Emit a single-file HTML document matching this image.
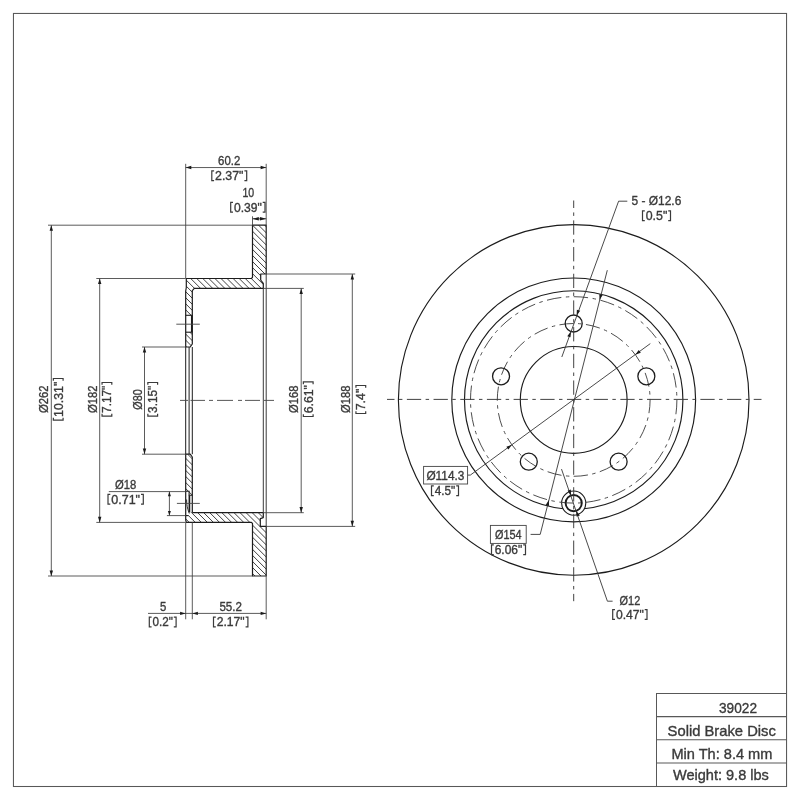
<!DOCTYPE html>
<html><head><meta charset="utf-8"><title>39022 Solid Brake Disc</title>
<style>
html,body{margin:0;padding:0;background:#fff;}
body{width:800px;height:800px;overflow:hidden;}
svg{display:block;will-change:transform;}
text{font-family:"Liberation Sans",sans-serif;fill:#3a3a3a;stroke:#3a3a3a;stroke-width:0.35px;}
</style></head><body>
<svg width="800" height="800" viewBox="0 0 800 800">
<rect width="800" height="800" fill="#fff"/>
<rect x="13.45" y="13.45" width="773.1" height="773.05" fill="none" stroke="#585858" stroke-width="1.05"/>
<defs>
<clipPath id="cu"><path d="M252.50,225.20 L266.20,225.20 L266.20,274.00 L260.70,274.00 L260.70,280.00 L263.30,283.30 L263.30,288.40 L194.30,288.40 L192.30,290.60 L192.30,344.00 L190.20,347.00 L185.70,347.00 L185.70,291.00 L186.30,287.50 L186.30,278.50 L251.40,278.50 L252.50,277.30 Z"/></clipPath>
<clipPath id="cl"><path d="M252.50,576.00 L266.20,576.00 L266.20,526.40 L260.30,526.40 L260.30,518.60 L263.30,517.60 L263.30,512.70 L193.00,512.70 L192.30,512.00 L192.30,457.00 L190.20,454.20 L185.70,454.20 L185.70,520.00 L186.30,522.40 L251.40,522.40 L252.50,523.50 Z"/></clipPath>
</defs>
<g clip-path="url(#cu)" stroke="#3c3c3c" stroke-width="0.98">
<line x1="181.00" y1="123.36" x2="270.00" y2="212.36"/>
<line x1="181.00" y1="129.42" x2="270.00" y2="218.42"/>
<line x1="181.00" y1="135.48" x2="270.00" y2="224.48"/>
<line x1="181.00" y1="141.54" x2="270.00" y2="230.54"/>
<line x1="181.00" y1="147.60" x2="270.00" y2="236.60"/>
<line x1="181.00" y1="153.66" x2="270.00" y2="242.66"/>
<line x1="181.00" y1="159.72" x2="270.00" y2="248.72"/>
<line x1="181.00" y1="165.78" x2="270.00" y2="254.78"/>
<line x1="181.00" y1="171.84" x2="270.00" y2="260.84"/>
<line x1="181.00" y1="177.90" x2="270.00" y2="266.90"/>
<line x1="181.00" y1="183.96" x2="270.00" y2="272.96"/>
<line x1="181.00" y1="190.02" x2="270.00" y2="279.02"/>
<line x1="181.00" y1="196.08" x2="270.00" y2="285.08"/>
<line x1="181.00" y1="202.14" x2="270.00" y2="291.14"/>
<line x1="181.00" y1="208.20" x2="270.00" y2="297.20"/>
<line x1="181.00" y1="214.26" x2="270.00" y2="303.26"/>
<line x1="181.00" y1="220.32" x2="270.00" y2="309.32"/>
<line x1="181.00" y1="226.38" x2="270.00" y2="315.38"/>
<line x1="181.00" y1="232.44" x2="270.00" y2="321.44"/>
<line x1="181.00" y1="238.50" x2="270.00" y2="327.50"/>
<line x1="181.00" y1="244.56" x2="270.00" y2="333.56"/>
<line x1="181.00" y1="250.62" x2="270.00" y2="339.62"/>
<line x1="181.00" y1="256.68" x2="270.00" y2="345.68"/>
<line x1="181.00" y1="262.74" x2="270.00" y2="351.74"/>
<line x1="181.00" y1="268.80" x2="270.00" y2="357.80"/>
<line x1="181.00" y1="274.86" x2="270.00" y2="363.86"/>
<line x1="181.00" y1="280.92" x2="270.00" y2="369.92"/>
<line x1="181.00" y1="286.98" x2="270.00" y2="375.98"/>
<line x1="181.00" y1="293.04" x2="270.00" y2="382.04"/>
<line x1="181.00" y1="299.10" x2="270.00" y2="388.10"/>
<line x1="181.00" y1="305.16" x2="270.00" y2="394.16"/>
<line x1="181.00" y1="311.22" x2="270.00" y2="400.22"/>
<line x1="181.00" y1="317.28" x2="270.00" y2="406.28"/>
<line x1="181.00" y1="323.34" x2="270.00" y2="412.34"/>
<line x1="181.00" y1="329.40" x2="270.00" y2="418.40"/>
<line x1="181.00" y1="335.46" x2="270.00" y2="424.46"/>
<line x1="181.00" y1="341.52" x2="270.00" y2="430.52"/>
<line x1="181.00" y1="347.58" x2="270.00" y2="436.58"/>
<line x1="181.00" y1="353.64" x2="270.00" y2="442.64"/>
</g>
<g clip-path="url(#cl)" stroke="#3c3c3c" stroke-width="0.98">
<line x1="181.00" y1="150.60" x2="270.00" y2="239.60"/>
<line x1="181.00" y1="156.66" x2="270.00" y2="245.66"/>
<line x1="181.00" y1="162.72" x2="270.00" y2="251.72"/>
<line x1="181.00" y1="168.78" x2="270.00" y2="257.78"/>
<line x1="181.00" y1="174.84" x2="270.00" y2="263.84"/>
<line x1="181.00" y1="180.90" x2="270.00" y2="269.90"/>
<line x1="181.00" y1="186.96" x2="270.00" y2="275.96"/>
<line x1="181.00" y1="193.02" x2="270.00" y2="282.02"/>
<line x1="181.00" y1="199.08" x2="270.00" y2="288.08"/>
<line x1="181.00" y1="205.14" x2="270.00" y2="294.14"/>
<line x1="181.00" y1="211.20" x2="270.00" y2="300.20"/>
<line x1="181.00" y1="217.26" x2="270.00" y2="306.26"/>
<line x1="181.00" y1="223.32" x2="270.00" y2="312.32"/>
<line x1="181.00" y1="229.38" x2="270.00" y2="318.38"/>
<line x1="181.00" y1="235.44" x2="270.00" y2="324.44"/>
<line x1="181.00" y1="241.50" x2="270.00" y2="330.50"/>
<line x1="181.00" y1="247.56" x2="270.00" y2="336.56"/>
<line x1="181.00" y1="253.62" x2="270.00" y2="342.62"/>
<line x1="181.00" y1="259.68" x2="270.00" y2="348.68"/>
<line x1="181.00" y1="265.74" x2="270.00" y2="354.74"/>
<line x1="181.00" y1="271.80" x2="270.00" y2="360.80"/>
<line x1="181.00" y1="277.86" x2="270.00" y2="366.86"/>
<line x1="181.00" y1="283.92" x2="270.00" y2="372.92"/>
<line x1="181.00" y1="289.98" x2="270.00" y2="378.98"/>
<line x1="181.00" y1="296.04" x2="270.00" y2="385.04"/>
<line x1="181.00" y1="302.10" x2="270.00" y2="391.10"/>
<line x1="181.00" y1="308.16" x2="270.00" y2="397.16"/>
<line x1="181.00" y1="314.22" x2="270.00" y2="403.22"/>
<line x1="181.00" y1="320.28" x2="270.00" y2="409.28"/>
<line x1="181.00" y1="326.34" x2="270.00" y2="415.34"/>
<line x1="181.00" y1="332.40" x2="270.00" y2="421.40"/>
<line x1="181.00" y1="338.46" x2="270.00" y2="427.46"/>
<line x1="181.00" y1="344.52" x2="270.00" y2="433.52"/>
<line x1="181.00" y1="350.58" x2="270.00" y2="439.58"/>
<line x1="181.00" y1="356.64" x2="270.00" y2="445.64"/>
<line x1="181.00" y1="362.70" x2="270.00" y2="451.70"/>
<line x1="181.00" y1="368.76" x2="270.00" y2="457.76"/>
<line x1="181.00" y1="374.82" x2="270.00" y2="463.82"/>
<line x1="181.00" y1="380.88" x2="270.00" y2="469.88"/>
<line x1="181.00" y1="386.94" x2="270.00" y2="475.94"/>
<line x1="181.00" y1="393.00" x2="270.00" y2="482.00"/>
<line x1="181.00" y1="399.06" x2="270.00" y2="488.06"/>
<line x1="181.00" y1="405.12" x2="270.00" y2="494.12"/>
<line x1="181.00" y1="411.18" x2="270.00" y2="500.18"/>
<line x1="181.00" y1="417.24" x2="270.00" y2="506.24"/>
<line x1="181.00" y1="423.30" x2="270.00" y2="512.30"/>
<line x1="181.00" y1="429.36" x2="270.00" y2="518.36"/>
<line x1="181.00" y1="435.42" x2="270.00" y2="524.42"/>
<line x1="181.00" y1="441.48" x2="270.00" y2="530.48"/>
<line x1="181.00" y1="447.54" x2="270.00" y2="536.54"/>
<line x1="181.00" y1="453.60" x2="270.00" y2="542.60"/>
<line x1="181.00" y1="459.66" x2="270.00" y2="548.66"/>
<line x1="181.00" y1="465.72" x2="270.00" y2="554.72"/>
<line x1="181.00" y1="471.78" x2="270.00" y2="560.78"/>
<line x1="181.00" y1="477.84" x2="270.00" y2="566.84"/>
<line x1="181.00" y1="483.90" x2="270.00" y2="572.90"/>
<line x1="181.00" y1="489.96" x2="270.00" y2="578.96"/>
<line x1="181.00" y1="496.02" x2="270.00" y2="585.02"/>
<line x1="181.00" y1="502.08" x2="270.00" y2="591.08"/>
<line x1="181.00" y1="508.14" x2="270.00" y2="597.14"/>
<line x1="181.00" y1="514.20" x2="270.00" y2="603.20"/>
<line x1="181.00" y1="520.26" x2="270.00" y2="609.26"/>
<line x1="181.00" y1="526.32" x2="270.00" y2="615.32"/>
<line x1="181.00" y1="532.38" x2="270.00" y2="621.38"/>
<line x1="181.00" y1="538.44" x2="270.00" y2="627.44"/>
<line x1="181.00" y1="544.50" x2="270.00" y2="633.50"/>
<line x1="181.00" y1="550.56" x2="270.00" y2="639.56"/>
<line x1="181.00" y1="556.62" x2="270.00" y2="645.62"/>
<line x1="181.00" y1="562.68" x2="270.00" y2="651.68"/>
<line x1="181.00" y1="568.74" x2="270.00" y2="657.74"/>
<line x1="181.00" y1="574.80" x2="270.00" y2="663.80"/>
<line x1="181.00" y1="580.86" x2="270.00" y2="669.86"/>
</g>
<rect x="185.70" y="315.30" width="6.60" height="16.90" fill="#fff"/>
<rect x="185.10" y="491.3" width="4.00" height="24.3" fill="#fff"/>
<rect x="189.10" y="495.3" width="3.80" height="17.0" fill="#fff"/>
<path d="M252.50,225.20 L266.20,225.20 L266.20,274.00 L260.70,274.00 L260.70,280.00 L263.30,283.30 L263.30,288.40 L194.30,288.40 L192.30,290.60 L192.30,344.00 L190.20,347.00 L185.70,347.00 L185.70,291.00 L186.30,287.50 L186.30,278.50 L251.40,278.50 L252.50,277.30 Z" fill="none" stroke="#1c1c1c" stroke-width="1.2" stroke-linejoin="round"/>
<path d="M252.50,576.00 L266.20,576.00 L266.20,526.40 L260.30,526.40 L260.30,518.60 L263.30,517.60 L263.30,512.70 L193.00,512.70 L192.30,512.00 L192.30,457.00 L190.20,454.20 L185.70,454.20 L185.70,520.00 L186.30,522.40 L251.40,522.40 L252.50,523.50 Z" fill="none" stroke="#1c1c1c" stroke-width="1.2" stroke-linejoin="round"/>
<line x1="185.70" y1="315.30" x2="192.30" y2="315.30" stroke="#1c1c1c" stroke-width="1.1" />
<line x1="185.70" y1="332.20" x2="192.30" y2="332.20" stroke="#1c1c1c" stroke-width="1.1" />
<line x1="191.80" y1="315.30" x2="191.80" y2="332.20" stroke="#1c1c1c" stroke-width="1.7" />
<path d="M185.70,491.3 L189.10,491.3 L189.10,495.3 L192.30,495.3" fill="none" stroke="#1c1c1c" stroke-width="1.1"/>
<path d="M185.70,515.6 L188.70,515.6" fill="none" stroke="#1c1c1c" stroke-width="1.1"/>
<line x1="189.40" y1="495.30" x2="189.40" y2="512.40" stroke="#1c1c1c" stroke-width="1.7" />
<path d="M186.60,499.5 C186.70,507 188.10,510 189.30,513.5" fill="none" stroke="#1c1c1c" stroke-width="0.9"/>
<line x1="185.70" y1="347.00" x2="185.70" y2="454.20" stroke="#1c1c1c" stroke-width="1.0" />
<line x1="189.10" y1="347.00" x2="189.10" y2="454.20" stroke="#1c1c1c" stroke-width="1.0" />
<line x1="192.30" y1="347.00" x2="192.30" y2="454.20" stroke="#1c1c1c" stroke-width="1.0" />
<line x1="263.30" y1="288.40" x2="263.30" y2="512.70" stroke="#3a3a3a" stroke-width="1.0" />
<line x1="266.20" y1="274.00" x2="266.20" y2="526.40" stroke="#3a3a3a" stroke-width="1.0" />
<line x1="176.30" y1="324.20" x2="199.80" y2="324.20" stroke="#444444" stroke-width="0.9" />
<line x1="176.90" y1="503.40" x2="199.80" y2="503.40" stroke="#444444" stroke-width="0.9" />
<line x1="180.00" y1="400.40" x2="188.00" y2="400.40" stroke="#444" stroke-width="0.9" />
<line x1="190.50" y1="400.40" x2="205.00" y2="400.40" stroke="#444" stroke-width="0.9" />
<line x1="209.00" y1="400.40" x2="213.00" y2="400.40" stroke="#444" stroke-width="0.9" />
<line x1="217.00" y1="400.40" x2="233.00" y2="400.40" stroke="#444" stroke-width="0.9" />
<line x1="238.00" y1="400.40" x2="242.00" y2="400.40" stroke="#444" stroke-width="0.9" />
<line x1="245.00" y1="400.40" x2="260.00" y2="400.40" stroke="#444" stroke-width="0.9" />
<line x1="264.00" y1="400.40" x2="274.00" y2="400.40" stroke="#444" stroke-width="0.9" />
<line x1="185.70" y1="163.80" x2="185.70" y2="278.50" stroke="#444444" stroke-width="0.88" />
<line x1="266.20" y1="163.80" x2="266.20" y2="225.20" stroke="#444444" stroke-width="0.88" />
<line x1="185.70" y1="167.55" x2="266.20" y2="167.55" stroke="#444444" stroke-width="0.88" />
<polygon points="185.70,167.55 191.30,165.85 191.30,169.25" fill="#1a1a1a"/>
<polygon points="266.20,167.55 260.60,169.25 260.60,165.85" fill="#1a1a1a"/>
<text transform="translate(218.10,164.60) scale(0.9193,1)" font-size="12.4">60.2</text>
<path d="M214.10,170.85 H211.80 V180.60 H214.10 M244.40,170.85 H246.70 V180.60 H244.40" fill="none" stroke="#3a3a3a" stroke-width="1.2"/>
<text transform="translate(215.00,180.00) scale(0.9982,1)" font-size="12.4">2.37&quot;</text>
<line x1="252.50" y1="216.30" x2="252.50" y2="225.20" stroke="#444444" stroke-width="0.88" />
<line x1="252.50" y1="218.80" x2="266.20" y2="218.80" stroke="#444444" stroke-width="0.88" />
<polygon points="252.50,218.80 258.80,217.10 258.80,220.50" fill="#1a1a1a"/>
<polygon points="266.20,218.80 259.90,220.50 259.90,217.10" fill="#1a1a1a"/>
<text transform="translate(242.40,196.70) scale(0.8551,1)" font-size="12.4">10</text>
<path d="M233.00,202.35 H230.70 V212.10 H233.00 M262.70,202.35 H265.00 V212.10 H262.70" fill="none" stroke="#3a3a3a" stroke-width="1.2"/>
<text transform="translate(233.90,211.50) scale(0.9772,1)" font-size="12.4">0.39&quot;</text>
<line x1="185.70" y1="522.40" x2="185.70" y2="619.30" stroke="#444444" stroke-width="0.88" />
<line x1="192.30" y1="522.40" x2="192.30" y2="619.30" stroke="#444444" stroke-width="0.88" />
<line x1="266.20" y1="576.00" x2="266.20" y2="619.30" stroke="#444444" stroke-width="0.88" />
<line x1="148.00" y1="613.40" x2="266.20" y2="613.40" stroke="#444444" stroke-width="0.88" />
<polygon points="185.70,613.40 180.10,615.10 180.10,611.70" fill="#1a1a1a"/>
<polygon points="192.30,613.40 197.90,611.70 197.90,615.10" fill="#1a1a1a"/>
<polygon points="266.20,613.40 260.60,615.10 260.60,611.70" fill="#1a1a1a"/>
<text transform="translate(159.90,611.00) scale(0.9130,1)" font-size="12.4">5</text>
<path d="M151.60,617.15 H149.30 V626.90 H151.60 M173.80,617.15 H176.10 V626.90 H173.80" fill="none" stroke="#3a3a3a" stroke-width="1.2"/>
<text transform="translate(152.50,626.30) scale(0.9423,1)" font-size="12.4">0.2&quot;</text>
<text transform="translate(219.40,611.00) scale(0.9358,1)" font-size="12.4">55.2</text>
<path d="M215.80,617.15 H213.50 V626.90 H215.80 M245.60,617.15 H247.90 V626.90 H245.60" fill="none" stroke="#3a3a3a" stroke-width="1.2"/>
<text transform="translate(216.70,626.30) scale(0.9807,1)" font-size="12.4">2.17&quot;</text>
<line x1="48.00" y1="225.20" x2="252.50" y2="225.20" stroke="#444444" stroke-width="0.88" />
<line x1="48.00" y1="576.00" x2="252.50" y2="576.00" stroke="#444444" stroke-width="0.88" />
<line x1="51.30" y1="225.20" x2="51.30" y2="576.00" stroke="#444444" stroke-width="0.88" />
<polygon points="51.30,225.20 53.00,230.80 49.60,230.80" fill="#1a1a1a"/>
<polygon points="51.30,576.00 49.60,570.40 53.00,570.40" fill="#1a1a1a"/>
<g transform="translate(47.50,413.00) rotate(-90)">
<text transform="translate(0.00,0.00) scale(0.9094,1)" font-size="12.4">Ø262</text>
</g>
<g transform="translate(62.50,420.60) rotate(-90)">
<path d="M2.80,-9.15 H0.50 V0.60 H2.80 M39.80,-9.15 H42.10 V0.60 H39.80" fill="none" stroke="#3a3a3a" stroke-width="1.2"/>
<text transform="translate(3.70,0.00) scale(0.9929,1)" font-size="12.4">10.31&quot;</text>
</g>
<line x1="96.30" y1="278.50" x2="185.70" y2="278.50" stroke="#444444" stroke-width="0.88" />
<line x1="96.30" y1="522.40" x2="185.70" y2="522.40" stroke="#444444" stroke-width="0.88" />
<line x1="99.70" y1="278.50" x2="99.70" y2="522.40" stroke="#444444" stroke-width="0.88" />
<polygon points="99.70,278.50 101.40,284.10 98.00,284.10" fill="#1a1a1a"/>
<polygon points="99.70,522.40 98.00,516.80 101.40,516.80" fill="#1a1a1a"/>
<g transform="translate(96.70,413.00) rotate(-90)">
<text transform="translate(0.00,0.00) scale(0.9094,1)" font-size="12.4">Ø182</text>
</g>
<g transform="translate(111.20,416.60) rotate(-90)">
<path d="M2.80,-9.15 H0.50 V0.60 H2.80 M31.80,-9.15 H34.10 V0.60 H31.80" fill="none" stroke="#3a3a3a" stroke-width="1.2"/>
<text transform="translate(3.70,0.00) scale(0.9527,1)" font-size="12.4">7.17&quot;</text>
</g>
<line x1="142.00" y1="347.00" x2="185.70" y2="347.00" stroke="#444444" stroke-width="0.88" />
<line x1="142.00" y1="454.20" x2="185.70" y2="454.20" stroke="#444444" stroke-width="0.88" />
<line x1="144.50" y1="347.00" x2="144.50" y2="454.20" stroke="#444444" stroke-width="0.88" />
<polygon points="144.50,347.00 146.20,352.60 142.80,352.60" fill="#1a1a1a"/>
<polygon points="144.50,454.20 142.80,448.60 146.20,448.60" fill="#1a1a1a"/>
<g transform="translate(142.20,409.70) rotate(-90)">
<text transform="translate(0.00,0.00) scale(0.8742,1)" font-size="12.4">Ø80</text>
</g>
<g transform="translate(157.00,416.60) rotate(-90)">
<path d="M2.80,-9.15 H0.50 V0.60 H2.80 M31.80,-9.15 H34.10 V0.60 H31.80" fill="none" stroke="#3a3a3a" stroke-width="1.2"/>
<text transform="translate(3.70,0.00) scale(0.9527,1)" font-size="12.4">3.15&quot;</text>
</g>
<line x1="108.80" y1="491.60" x2="185.70" y2="491.60" stroke="#444444" stroke-width="0.88" />
<line x1="166.90" y1="515.60" x2="185.70" y2="515.60" stroke="#444444" stroke-width="0.88" />
<line x1="169.40" y1="491.60" x2="169.40" y2="515.60" stroke="#444444" stroke-width="0.88" />
<polygon points="169.40,491.60 170.90,496.20 167.90,496.20" fill="#1a1a1a"/>
<polygon points="169.40,515.60 167.90,511.00 170.90,511.00" fill="#1a1a1a"/>
<text transform="translate(115.00,488.70) scale(0.9083,1)" font-size="12.4">Ø18</text>
<path d="M110.30,494.45 H108.00 V504.20 H110.30 M141.00,494.45 H143.30 V504.20 H141.00" fill="none" stroke="#3a3a3a" stroke-width="1.2"/>
<text transform="translate(111.20,503.60) scale(1.0123,1)" font-size="12.4">0.71&quot;</text>
<line x1="263.30" y1="288.40" x2="303.80" y2="288.40" stroke="#444444" stroke-width="0.88" />
<line x1="263.30" y1="512.70" x2="303.80" y2="512.70" stroke="#444444" stroke-width="0.88" />
<line x1="301.20" y1="288.40" x2="301.20" y2="512.70" stroke="#444444" stroke-width="0.88" />
<polygon points="301.20,288.40 302.90,294.00 299.50,294.00" fill="#1a1a1a"/>
<polygon points="301.20,512.70 299.50,507.10 302.90,507.10" fill="#1a1a1a"/>
<g transform="translate(297.50,413.00) rotate(-90)">
<text transform="translate(0.00,0.00) scale(0.9028,1)" font-size="12.4">Ø168</text>
</g>
<g transform="translate(312.50,417.00) rotate(-90)">
<path d="M2.80,-9.15 H0.50 V0.60 H2.80 M32.80,-9.15 H35.10 V0.60 H32.80" fill="none" stroke="#3a3a3a" stroke-width="1.2"/>
<text transform="translate(3.70,0.00) scale(0.9877,1)" font-size="12.4">6.61&quot;</text>
</g>
<line x1="266.20" y1="274.00" x2="355.20" y2="274.00" stroke="#444444" stroke-width="0.88" />
<line x1="266.20" y1="526.40" x2="355.20" y2="526.40" stroke="#444444" stroke-width="0.88" />
<line x1="352.30" y1="274.00" x2="352.30" y2="526.40" stroke="#444444" stroke-width="0.88" />
<polygon points="352.30,274.00 354.00,279.60 350.60,279.60" fill="#1a1a1a"/>
<polygon points="352.30,526.40 350.60,520.80 354.00,520.80" fill="#1a1a1a"/>
<g transform="translate(349.50,413.00) rotate(-90)">
<text transform="translate(0.00,0.00) scale(0.9028,1)" font-size="12.4">Ø188</text>
</g>
<g transform="translate(365.10,414.00) rotate(-90)">
<path d="M2.80,-9.15 H0.50 V0.60 H2.80 M26.20,-9.15 H28.50 V0.60 H26.20" fill="none" stroke="#3a3a3a" stroke-width="1.2"/>
<text transform="translate(3.70,0.00) scale(0.9977,1)" font-size="12.4">7.4&quot;</text>
</g>
<circle cx="573.7" cy="399.9" r="175.30" fill="none" stroke="#1c1c1c" stroke-width="1.15" />
<circle cx="573.7" cy="399.9" r="121.90" fill="none" stroke="#1c1c1c" stroke-width="1.15" />
<circle cx="573.7" cy="399.9" r="109.20" fill="none" stroke="#1c1c1c" stroke-width="1.15" />
<circle cx="573.7" cy="399.9" r="53.40" fill="none" stroke="#1c1c1c" stroke-width="1.15" />
<circle cx="573.7" cy="503.10" r="12.1" fill="#fff" stroke="#1c1c1c" stroke-width="1.1"/>
<circle cx="573.7" cy="399.9" r="103.20" fill="none" stroke="#444" stroke-width="0.95" pathLength="648.0" stroke-dasharray="14.5 4.5 3.5 4.5"/>
<path d="M573.70,323.50 A76.4 76.4 0 1 0 573.70,476.30 A76.4 76.4 0 1 0 573.70,323.50" fill="none" stroke="#444" stroke-width="0.95" pathLength="486.0" stroke-dasharray="14.5 4.5 3.5 4.5"/>
<circle cx="573.70" cy="323.50" r="8.5" fill="none" stroke="#1c1c1c" stroke-width="1.3"/>
<circle cx="501.04" cy="376.29" r="8.5" fill="none" stroke="#1c1c1c" stroke-width="1.3"/>
<circle cx="528.79" cy="461.71" r="8.5" fill="none" stroke="#1c1c1c" stroke-width="1.3"/>
<circle cx="618.61" cy="461.71" r="8.5" fill="none" stroke="#1c1c1c" stroke-width="1.3"/>
<circle cx="646.36" cy="376.29" r="8.5" fill="none" stroke="#1c1c1c" stroke-width="1.3"/>
<circle cx="573.70" cy="503.10" r="8.1" fill="none" stroke="#1c1c1c" stroke-width="1.9"/>
<line x1="387.00" y1="399.40" x2="761.50" y2="399.40" stroke="#383838" stroke-width="0.95" stroke-dasharray="14.3 4.45 3.45 4.48" stroke-dashoffset="6.8"/>
<line x1="573.70" y1="200.50" x2="573.70" y2="601.20" stroke="#383838" stroke-width="0.95" stroke-dasharray="14.3 4.45 3.45 4.48" stroke-dashoffset="6.8"/>
<line x1="627.30" y1="201.20" x2="618.60" y2="201.20" stroke="#3a3a3a" stroke-width="0.92" />
<line x1="618.60" y1="201.20" x2="561.80" y2="357.00" stroke="#3a3a3a" stroke-width="0.92" />
<polygon points="576.61,315.51 576.89,309.65 580.17,310.85" fill="#1a1a1a"/>
<polygon points="570.79,331.49 570.51,337.35 567.23,336.15" fill="#1a1a1a"/>
<text transform="translate(631.60,205.40) scale(0.9632,1)" font-size="12.4">5 - Ø12.6</text>
<path d="M644.80,210.85 H642.50 V220.60 H644.80 M668.20,210.85 H670.50 V220.60 H668.20" fill="none" stroke="#3a3a3a" stroke-width="1.2"/>
<text transform="translate(645.70,220.00) scale(0.9977,1)" font-size="12.4">0.5&quot;</text>
<line x1="607.30" y1="270.20" x2="540.20" y2="534.40" stroke="#3a3a3a" stroke-width="0.92" />
<line x1="540.20" y1="534.40" x2="530.60" y2="534.40" stroke="#3a3a3a" stroke-width="0.92" />
<polygon points="599.58,300.00 599.29,294.14 602.68,295.02" fill="#1a1a1a"/>
<polygon points="548.76,500.04 549.10,505.90 545.71,505.05" fill="#1a1a1a"/>
<rect x="490.4" y="525.4" width="35.8" height="18.0" fill="#fff" stroke="#444444" stroke-width="0.9"/>
<text transform="translate(495.00,539.00) scale(0.8764,1)" font-size="12.4">Ø154</text>
<path d="M493.80,544.85 H491.50 V554.60 H493.80 M523.20,544.85 H525.50 V554.60 H523.20" fill="none" stroke="#3a3a3a" stroke-width="1.2"/>
<text transform="translate(494.70,554.00) scale(0.9667,1)" font-size="12.4">6.06&quot;</text>
<line x1="650.30" y1="343.60" x2="470.30" y2="475.10" stroke="#3a3a3a" stroke-width="0.92" />
<line x1="470.30" y1="475.10" x2="467.60" y2="475.10" stroke="#3a3a3a" stroke-width="0.92" />
<polygon points="635.26,354.65 638.74,349.93 640.81,352.75" fill="#1a1a1a"/>
<polygon points="511.91,444.84 508.41,449.55 506.35,446.71" fill="#1a1a1a"/>
<rect x="423.6" y="466.4" width="44.0" height="17.6" fill="#fff" stroke="#444444" stroke-width="0.9"/>
<text transform="translate(426.40,480.00) scale(0.9560,1)" font-size="12.4">Ø114.3</text>
<path d="M433.80,485.85 H431.50 V495.60 H433.80 M456.20,485.85 H458.50 V495.60 H456.20" fill="none" stroke="#3a3a3a" stroke-width="1.2"/>
<text transform="translate(434.70,495.00) scale(0.9515,1)" font-size="12.4">4.5&quot;</text>
<line x1="561.50" y1="469.10" x2="607.40" y2="601.20" stroke="#3a3a3a" stroke-width="0.92" />
<line x1="607.40" y1="601.20" x2="612.60" y2="601.20" stroke="#3a3a3a" stroke-width="0.92" />
<polygon points="571.04,495.45 567.55,490.73 570.86,489.58" fill="#1a1a1a"/>
<polygon points="576.36,510.75 579.85,515.47 576.54,516.62" fill="#1a1a1a"/>
<text transform="translate(619.60,604.80) scale(0.8827,1)" font-size="12.4">Ø12</text>
<path d="M615.00,609.65 H612.70 V619.40 H615.00 M644.70,609.65 H647.00 V619.40 H644.70" fill="none" stroke="#3a3a3a" stroke-width="1.2"/>
<text transform="translate(615.90,618.80) scale(0.9772,1)" font-size="12.4">0.47&quot;</text>
<g stroke="#585858" stroke-width="1.05">
<line x1="656.0" y1="693.45" x2="786.6" y2="693.45"/>
<line x1="656.5" y1="716.6" x2="786.6" y2="716.6"/>
<line x1="656.5" y1="739.7" x2="786.6" y2="739.7"/>
<line x1="656.5" y1="763.0" x2="786.6" y2="763.0"/>
<line x1="656.5" y1="693.45" x2="656.5" y2="786.5"/>
</g>
<text transform="translate(719.00,712.60) scale(0.9235,1)" font-size="14.8">39022</text>
<text transform="translate(667.60,735.70) scale(1.0121,1)" font-size="14.6">Solid Brake Disc</text>
<text transform="translate(671.40,758.80) scale(1.0197,1)" font-size="14.3">Min Th: 8.4 mm</text>
<text transform="translate(673.00,780.20) scale(1.0175,1)" font-size="14.3">Weight: 9.8 lbs</text>
</svg>
</body></html>
